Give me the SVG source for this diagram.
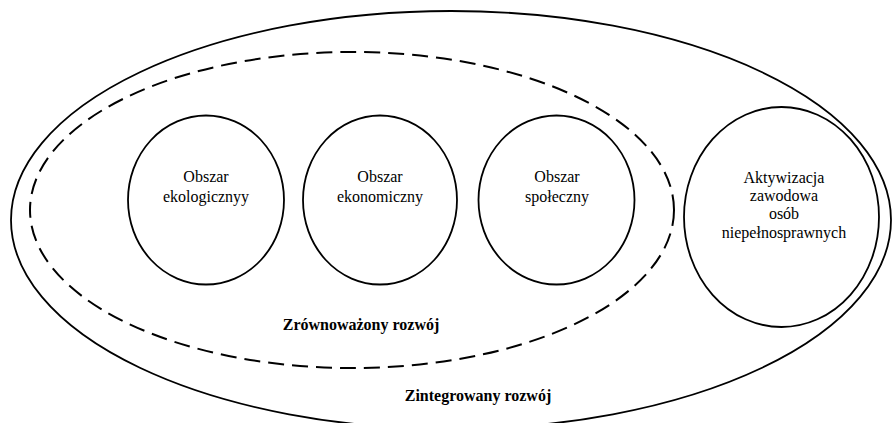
<svg xmlns="http://www.w3.org/2000/svg" width="892" height="423" viewBox="0 0 892 423">
<style>
.sh{fill:none;stroke:#000;stroke-width:1.8}
.dash{fill:none;stroke:#000;stroke-width:2;stroke-dasharray:16 8}
text{font-family:'Liberation Serif','Times New Roman',serif;font-size:16px;fill:#000;text-anchor:middle}
.b{font-weight:bold}
</style>
<rect width="892" height="423" fill="#fff"/>
<g id="zintegrowany">
<ellipse class="sh" cx="451" cy="220" rx="440" ry="209"/>
<text class="b" x="478" y="401">Zintegrowany rozwój</text>
</g>
<g id="zrownowazony">
<ellipse class="dash" cx="352" cy="210" rx="322" ry="158"/>
<text class="b" x="361" y="330">Zrównoważony rozwój</text>
</g>
<g id="ekologiczny">
<ellipse class="sh" cx="206" cy="200" rx="78" ry="84.5"/>
<text x="206" y="182">Obszar</text>
<text x="206" y="202">ekologicznyy</text>
</g>
<g id="ekonomiczny">
<ellipse class="sh" cx="380" cy="200" rx="77" ry="84.5"/>
<text x="380" y="182">Obszar</text>
<text x="380" y="202">ekonomiczny</text>
</g>
<g id="spoleczny">
<ellipse class="sh" cx="556.5" cy="200" rx="78" ry="84.5"/>
<text x="557" y="182">Obszar</text>
<text x="557" y="202">społeczny</text>
</g>
<g id="aktywizacja">
<ellipse class="sh" cx="781.5" cy="217" rx="97.5" ry="110"/>
<text x="784" y="183">Aktywizacja</text>
<text x="784" y="201">zawodowa</text>
<text x="784" y="219">osób</text>
<text x="784" y="238">niepełnosprawnych</text>
</g>
<g id="connectors"></g>
</svg>
